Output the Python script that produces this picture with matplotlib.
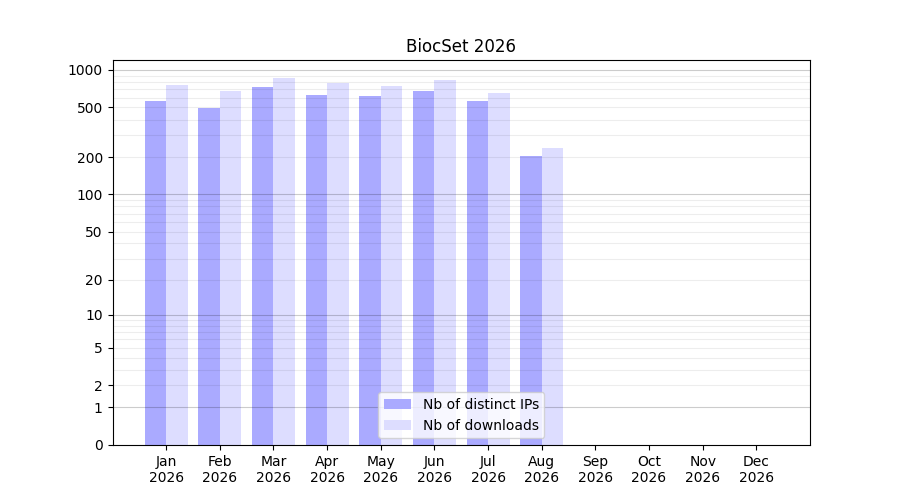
import numpy as np
import matplotlib
matplotlib.use("Agg")
import matplotlib.pyplot as plt

# Data
months = ["Jan", "Feb", "Mar", "Apr", "May", "Jun",
          "Jul", "Aug", "Sep", "Oct", "Nov", "Dec"]
year = 2026
nb_ips = [564, 496, 730, 630, 618, 678, 564, 204, 0, 0, 0, 0]
nb_downloads = [758, 678, 862, 787, 744, 831, 654, 237, 0, 0, 0, 0]

ytick_values = [0, 1, 2, 5, 10, 20, 50, 100, 200, 500, 1000]

x = np.arange(1, len(months) + 1)

fig, ax = plt.subplots(figsize=(9, 5), dpi=100)
ax.set_yscale("function", functions=(lambda y: np.log10(1 + np.maximum(y, 0)),
                                     lambda v: 10 ** v - 1))

ax.bar(x - 0.2, nb_ips, width=0.4, color="#aaaaff", label="Nb of distinct IPs")
ax.bar(x + 0.2, nb_downloads, width=0.4, color="#ddddff", label="Nb of downloads")

# grid lines (drawn on top of bars)
for p in [1, 10, 100, 1000]:
    ax.axhline(p, color="black", alpha=0.2, lw=0.8, zorder=3)
for decade in [1, 10, 100]:
    for k in range(2, 10):
        ax.axhline(k * decade, color="black", alpha=0.07, lw=0.8, zorder=3)

ax.set_xlim(0, 13)
ax.set_ylim(0, 1200)
ax.set_yticks(ytick_values)
ax.set_yticklabels([str(v) for v in ytick_values])
ax.yaxis.set_minor_locator(matplotlib.ticker.NullLocator())
ax.set_xticks(x)
ax.set_xticklabels([f"{m}\n{year}" for m in months])

ax.set_title(f"BiocSet {year}")
ax.legend(loc="lower center")

plt.savefig("out.png", dpi=100)
